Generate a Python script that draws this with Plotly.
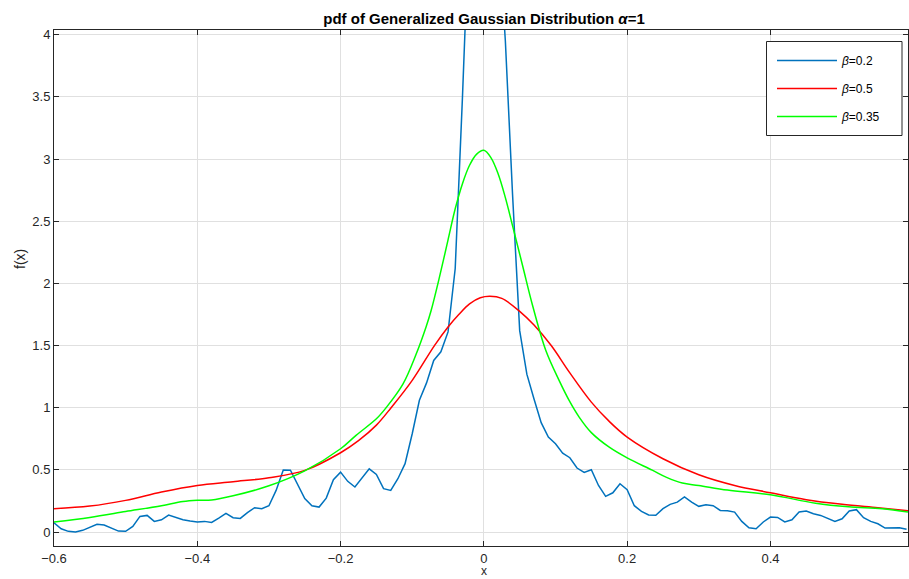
import numpy as np
import plotly.graph_objects as go

# beta = 0.2 (noisy), sampled every 0.01 from -0.60 to 0.59
x_blue = np.round(np.arange(-0.60, 0.595, 0.01), 2)
y_blue = [
    0.075, 0.027, 0.006, 0.000, 0.014, 0.040, 0.062, 0.057, 0.032, 0.008,
    0.006, 0.046, 0.126, 0.134, 0.086, 0.099, 0.137, 0.116, 0.099, 0.089,
    0.081, 0.086, 0.078, 0.113, 0.150, 0.116, 0.110, 0.156, 0.196, 0.188,
    0.212, 0.335, 0.499, 0.497, 0.389, 0.270, 0.212, 0.201, 0.273, 0.421,
    0.482, 0.408, 0.362, 0.434, 0.509, 0.464, 0.349, 0.335, 0.429, 0.550,
    0.791, 1.060, 1.200, 1.380, 1.450, 1.610, 2.120, 3.480, 4.870, 6.800,
    8.000, 6.900, 4.850, 3.950, 2.720, 1.620, 1.270, 1.070, 0.880, 0.764,
    0.710, 0.635, 0.598, 0.515, 0.480, 0.501, 0.375, 0.287, 0.316, 0.389,
    0.341, 0.212, 0.166, 0.137, 0.135, 0.188, 0.223, 0.241, 0.282, 0.241,
    0.207, 0.220, 0.212, 0.174, 0.172, 0.161, 0.086, 0.035, 0.027, 0.081,
    0.121, 0.118, 0.081, 0.099, 0.161, 0.169, 0.148, 0.134, 0.107, 0.086,
    0.107, 0.169, 0.180, 0.116, 0.086, 0.067, 0.032, 0.032, 0.035, 0.022,
]

# beta = 0.5
x_red = [-0.6, -0.55, -0.5, -0.45, -0.4, -0.35, -0.3, -0.25, -0.2, -0.175,
         -0.15, -0.1295, -0.1, -0.069, -0.05, -0.035, -0.02, -0.005, 0.0085,
         0.025, 0.05, 0.07, 0.094, 0.12, 0.15, 0.175, 0.2, 0.25, 0.3, 0.35,
         0.4, 0.45, 0.5, 0.55, 0.592]
y_red = [0.188, 0.209, 0.255, 0.322, 0.375, 0.405, 0.437, 0.496, 0.638, 0.735,
         0.860, 1.000, 1.220, 1.500, 1.650, 1.750, 1.836, 1.885, 1.897,
         1.880, 1.775, 1.665, 1.500, 1.280, 1.045, 0.890, 0.764, 0.590, 0.461,
         0.375, 0.316, 0.260, 0.223, 0.196, 0.172]

# beta = 0.35
x_green = [-0.6, -0.55, -0.5, -0.45, -0.42, -0.4, -0.38, -0.35, -0.3, -0.25,
           -0.2, -0.178, -0.15, -0.1365, -0.113, -0.0946, -0.0807, -0.0737,
           -0.062, -0.05, -0.04, -0.03, -0.02, -0.01, 0.0, 0.01, 0.02, 0.03,
           0.04, 0.054, 0.068, 0.0865, 0.105, 0.119, 0.133, 0.15, 0.175, 0.2,
           0.235, 0.255, 0.277, 0.3, 0.34, 0.4, 0.463, 0.509, 0.556, 0.592]
y_green = [0.081, 0.118, 0.165, 0.212, 0.245, 0.255, 0.258, 0.292, 0.372, 0.492,
           0.670, 0.780, 0.911, 1.000, 1.190, 1.430, 1.650, 1.780,
           2.050, 2.350, 2.600, 2.800, 2.950, 3.040, 3.070, 3.010, 2.880, 2.690,
           2.465, 2.144, 1.822, 1.460, 1.220, 1.059, 0.925, 0.800, 0.683, 0.597,
           0.498, 0.440, 0.394, 0.375, 0.338, 0.300, 0.232, 0.203, 0.188, 0.161]

series = [
    ("<i>β</i>=0.2", x_blue, y_blue, "#0072BD", "linear"),
    ("<i>β</i>=0.5", x_red, y_red, "#FF0000", "spline"),
    ("<i>β</i>=0.35", x_green, y_green, "#00FF00", "spline"),
]

fig = go.Figure()
for i, (name, xs, ys, col, shape) in enumerate(series):
    line = dict(color=col, width=1.5, shape=shape)
    if shape == "spline":
        line["smoothing"] = 1.0
    fig.add_trace(go.Scatter(x=list(xs), y=ys, mode="lines", name=name,
                             legendgroup=f"g{i}", line=line))

FONT = "Liberation Sans, Arial, Helvetica, sans-serif"
INK = "#262626"
axis_common = dict(
    showline=True, linecolor=INK, linewidth=1, mirror="ticks",
    ticks="inside", ticklen=5, tickcolor=INK, tickwidth=1,
    showgrid=True, gridcolor="#e0e0e0", gridwidth=1, zeroline=False,
    tickfont=dict(family=FONT, size=13, color=INK),
)

W, H = 909, 579
L, R, T, B = 54, 1, 30, 33
PW, PH = W - L - R, H - T - B


def px_x(p):
    return (p - L) / PW


def px_y(p):
    return 1 - (p - T) / PH


fig.update_layout(
    width=W, height=H,
    margin=dict(l=L, r=R, t=T, b=B),
    paper_bgcolor="white", plot_bgcolor="white",
    font=dict(family=FONT, size=13, color=INK),
    title=dict(text="<b>pdf of Generalized Gaussian Distribution <i>α</i>=1</b>",
               x=484 / W, xanchor="center", y=1 - 18.5 / H, yanchor="middle",
               font=dict(family=FONT, size=15, color="#000000")),
    xaxis=dict(range=[-0.6, 0.592], tick0=-0.6, dtick=0.2, **axis_common),
    yaxis=dict(range=[-0.112, 4.038], tick0=0, dtick=0.5, **axis_common),
    legend=dict(x=px_x(772), y=px_y(46), xanchor="left", yanchor="top",
                bgcolor="rgba(0,0,0,0)", borderwidth=0,
                font=dict(family=FONT, size=12, color="#000000"),
                itemwidth=60, tracegroupgap=9, itemclick=False),
    showlegend=True,
    shapes=[dict(type="rect", xref="paper", yref="paper",
                 x0=px_x(766.5), x1=px_x(902), y0=px_y(135.5), y1=px_y(41.5),
                 line=dict(color=INK, width=1), fillcolor="white", layer="above")],
    annotations=[
        dict(text="f(x)", xref="paper", yref="paper", x=px_x(20), y=px_y(259),
             xanchor="center", yanchor="middle", textangle=-90, showarrow=False,
             font=dict(family=FONT, size=14, color=INK)),
        dict(text="x", xref="paper", yref="paper", x=px_x(484), y=px_y(578.5),
             xanchor="center", yanchor="bottom", showarrow=False, borderpad=0,
             font=dict(family=FONT, size=12, color=INK)),
    ],
)

fig.write_html("out.html")
